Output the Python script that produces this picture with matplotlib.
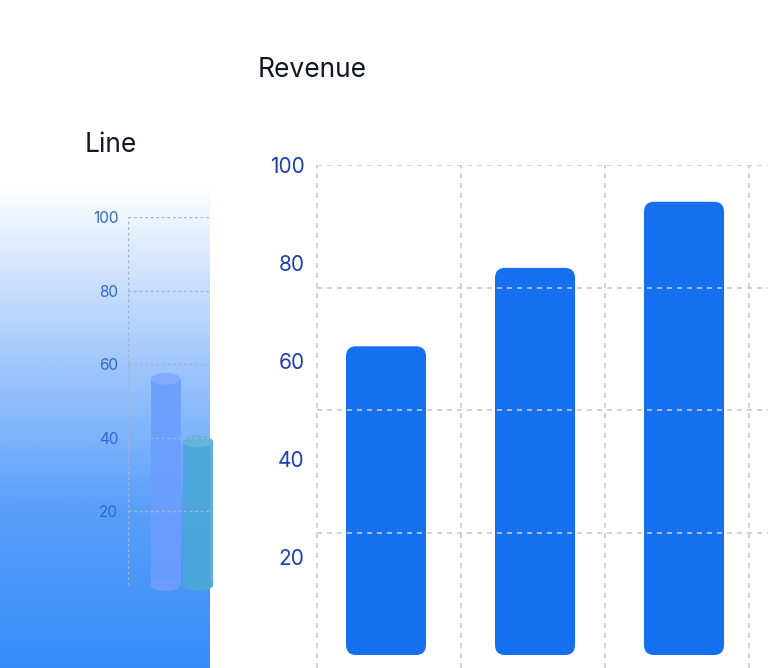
import matplotlib
matplotlib.use("Agg")
import matplotlib.pyplot as plt
import numpy as np
from matplotlib.patches import FancyBboxPatch, Rectangle, Ellipse

plt.rcParams['font.family'] = ['Inter', 'DejaVu Sans']

rev_cats = ["A", "B", "C"]
rev_vals = [63, 79, 92.5]
rev_ticks = [20, 40, 60, 80, 100]

line_cats = ["Figma", "Sketch"]
line_vals = [56, 39]
line_ticks = [20, 40, 60, 80, 100]

W, H = 768, 668
fig = plt.figure(figsize=(W/100, H/100), dpi=100)

def px_axes(x0, y0, x1, y1):
    return fig.add_axes([x0/W, 1-y1/H, (x1-x0)/W, (y1-y0)/H])

# gradient left panel
g = px_axes(0, 185, 210, 668)
grad = np.linspace(0, 1, 256)[:, None]
from matplotlib.colors import LinearSegmentedColormap
cm = LinearSegmentedColormap.from_list("g", ["#ffffff", "#a9ccfb", "#5aa0fb", "#388cf8"])
g.imshow(grad, aspect='auto', cmap=cm, extent=[0, 1, 1, 0])
g.axis('off')

fig.text(85/W, 1-145/H, "Line", fontsize=19, color="#101828", va='center')
fig.text(258/W, 1-70/H, "Revenue", fontsize=19, color="#101828", va='center')

# small line panel
a = px_axes(128, 217, 210, 585)
a.set_ylim(0, 100)
a.set_xlim(0, 82)
a.patch.set_alpha(0)
for s in a.spines.values():
    s.set_visible(False)
a.axvline(0, color="#9fb3d9", lw=1, ls=(0, (2, 2)))
a.axhline(0, color="#6f95d8", lw=1)
for t in line_ticks:
    a.axhline(t, color="#9fb3d9", lw=1, ls=(0, (2, 2)))
a.set_yticks(line_ticks)
a.set_yticklabels([str(t) for t in line_ticks])
a.tick_params(axis='y', length=0, labelsize=11, labelcolor="#3366cc", pad=7)
a.set_xticks([])
centers = [37.5, 70]
cols = ["#6b9dff", "#4ba7d9"]
for c, v, col in zip(centers, line_vals, cols):
    a.add_patch(Rectangle((c-15, 0), 30, v, color=col, alpha=0.9, lw=0, clip_on=False))
    a.add_patch(Ellipse((c, v), 30, 3.2, color=col, alpha=1, lw=0, clip_on=False))
    a.add_patch(Ellipse((c, 0), 30, 3.2, color=col, alpha=1, lw=0, clip_on=False))
    a.add_patch(Ellipse((c, v), 30, 3.2, color="white", alpha=0.15, lw=0, clip_on=False))
a.text(52-0, -5, line_cats[0], ha='center', va='center', fontsize=11, color="#6a9be8", clip_on=True)

# revenue panel
ax = px_axes(317, 165, 768, 655)
ax.set_ylim(0, 100)
step = 149.0
ax.set_xlim((317-386)/step, (768-386)/step)
for s in ax.spines.values():
    s.set_visible(False)
gc = "#c5c9d3"
for k in range(4):
    xv = (317-386)/step + k*144/step
    ax.plot([xv, xv], [-2.6, 100], color=gc, lw=1.2, ls=(0, (3, 3)), clip_on=False)
for t in [25, 50, 75, 100]:
    ax.axhline(t, color=gc, lw=1.2, ls=(0, (3, 3)))
w = 80/step
asp = step/4.9
for i, v in enumerate(rev_vals):
    ax.add_patch(FancyBboxPatch((i-w/2, 0), w, v,
                 boxstyle=f"round,pad=0,rounding_size={10/step}",
                 mutation_aspect=asp, color="#1570EF", lw=0))
ax.set_xticks([])
ax.set_yticks(rev_ticks)
ax.set_yticklabels([str(t) for t in rev_ticks])
ax.tick_params(axis='y', length=0, labelsize=15, labelcolor="#1e40af", pad=9)

fig.savefig("out.png", dpi=100)
